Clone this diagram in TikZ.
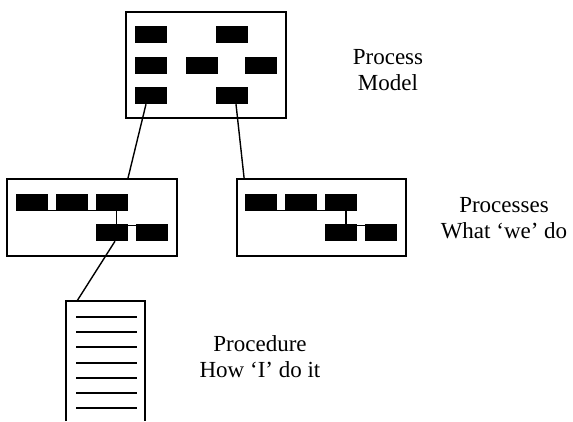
\documentclass[tikz,border=0pt]{standalone}
\usepackage{fontspec}
\setmainfont{Liberation Serif}
\begin{document}
\begin{tikzpicture}[x=1pt,y=-1pt,
  blk/.style={draw=none,fill=black,inner sep=0pt,minimum width=32pt,minimum height=17pt},
  frame/.style={draw=black,line width=1.8pt,fill=white,inner sep=0pt},
  conn/.style={line width=1.4pt},
  lbl/.style={align=center,font=\fontsize{23}{26}\selectfont}]
\useasboundingbox (0,0) rectangle (573,421);
\clip (0,0) rectangle (573,421);
% top box
\node[frame,minimum width=160pt,minimum height=106pt] (T) at (206,65) {};
\node[blk] (a1) at (151,34.5) {};
\node[blk] (a2) at (231.5,34.5) {};
\node[blk] (a3) at (151,65.5) {};
\node[blk] (a4) at (201.5,65.5) {};
\node[blk] (a5) at (261,65.5) {};
\node[blk] (a6) at (151,95.5) {};
\node[blk] (a7) at (231.5,95.5) {};
% middle boxes
\node[frame,minimum width=170pt,minimum height=77pt] (L) at (92,217.5) {};
\node[frame,minimum width=169pt,minimum height=77pt] (R) at (321.5,217.5) {};
% inner links (drawn first, behind the blocks)
\draw[conn] (32,210.3) -- (112,210.3);
\draw[conn] (116.5,205) -- (116.5,230);
\draw[conn] (112,225.7) -- (150,225.7);
\draw[conn] (261,210.3) -- (341,210.3);
\draw[conn] (346,205) -- (346,230);
\draw[conn] (341,225.7) -- (380,225.7);
\node[blk] (b1) at (32,202.5) {};
\node[blk] (b2) at (72,202.5) {};
\node[blk] (b3) at (111.5,202.5) {};
\node[blk] (b4) at (111.5,232.5) {};
\node[blk] (b5) at (151.5,232.5) {};
\node[blk] (c1) at (261,202.5) {};
\node[blk] (c2) at (301,202.5) {};
\node[blk] (c3) at (341,202.5) {};
\node[blk] (c4) at (341,232.5) {};
\node[blk] (c5) at (380.5,232.5) {};
% document
\coordinate (D) at (66,301);
\coordinate (Dr) at (145,301);
\draw[line width=1.6pt] (66,421) -- (D) -- (Dr) -- (145,421);
\foreach \yy in {317,332,347,363,378,393,408}
  \draw[line width=1.6pt] (76,\yy) -- (137,\yy);
% connectors
\draw[conn] ([xshift=-5pt]a6.south) -- ([xshift=36pt]L.north);
\draw[conn] ([xshift=4.5pt]a7.south) -- ([xshift=8pt]R.north west);
\draw[conn] ([xshift=3.5pt]b4.south) -- ([xshift=11pt]D);
% labels
\node[lbl] (t1) at (388,70) {Process\\Model};
\node[lbl] (t2) at (504,218) {Processes\\What ‘we’ do};
\node[lbl] (t3) at (260,357) {Procedure\\How ‘I’ do it};
\end{tikzpicture}
\end{document}
